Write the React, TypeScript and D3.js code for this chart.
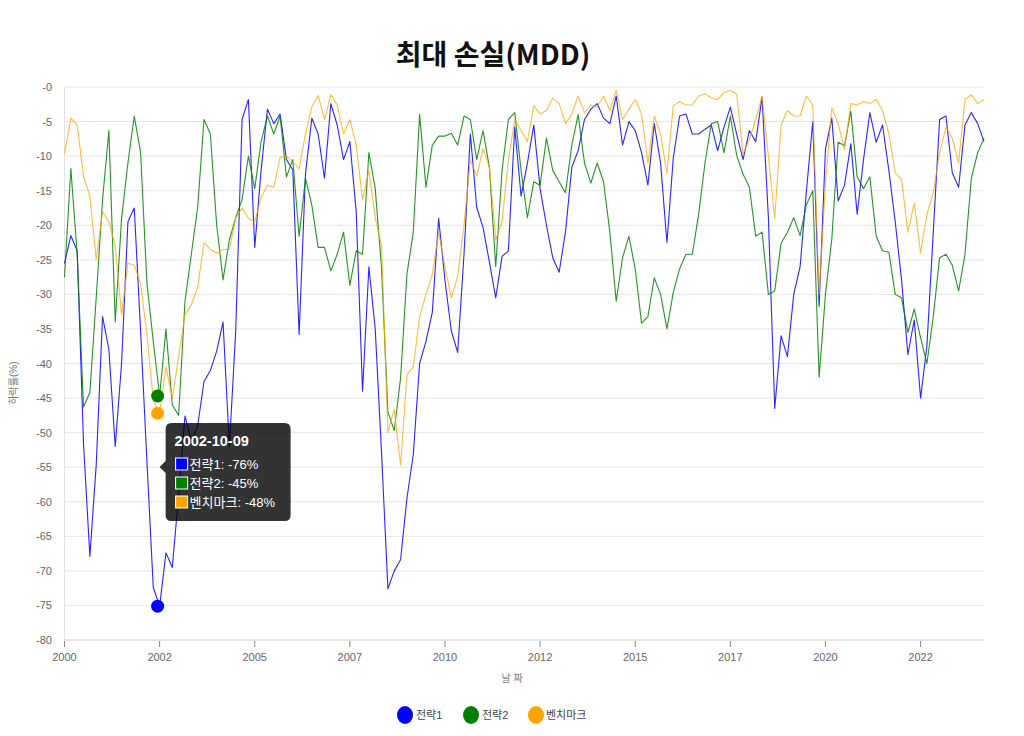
import React from "react";
import * as d3 from "d3";

const seriesNames = ["전략1", "전략2", "벤치마크"];
const seriesColors = ["#0000ff", "#008000", "#ffa500"];

const strategy1 = [
  -25.5, -21.5, -23.7, -51.6, -67.9, -54.7, -33.2, -38, -52, -40,
  -19.5, -17.5, -35.3, -54.2, -72.4, -75.1, -67.4, -69.5, -59, -47.6,
  -51.3, -49, -42.6, -41, -38.2, -34, -52, -35.3, -4.7, -1.8,
  -23.2, -12.1, -3.2, -5.3, -3.9, -10.5, -12, -35.8, -12.6, -4.5,
  -6.8, -13.2, -2.4, -5.5, -10.5, -7.9, -18, -44, -26, -35,
  -53, -72.6, -70, -68.4, -59.5, -53.2, -40, -36.8, -32.6, -19,
  -28, -35.3, -38.4, -24.2, -6.8, -17.4, -20.3, -25.3, -30.5, -24.5,
  -23.7, -5.8, -15.8, -11, -5.5, -14.7, -20, -24.7, -26.8, -21,
  -11.6, -9.2, -4.7, -3.2, -2.4, -4.5, -5.3, -1.3, -8.4, -5,
  -6.3, -9.5, -14.2, -5.3, -11, -22.5, -10.3, -4.2, -3.9, -6.8,
  -6.8, -6.1, -5.5, -9.2, -5.8, -2.9, -6.8, -10.5, -6.3, -7.9,
  -1.5, -18.9, -46.5, -36, -39, -30, -26, -15, -5, -31.7,
  -9, -4.5, -16.5, -14.2, -8.2, -18.4, -10.5, -3.7, -8, -5.5,
  -12.1, -19.5, -27.9, -38.7, -33.7, -45, -37.4, -21, -4.7, -4.2,
  -12.4, -14.5, -5.5, -3.7, -5.3, -7.9,
];

const strategy2 = [
  -27.5, -11.8, -24.2, -46.3, -44.2, -30.5, -16.3, -6.3, -34, -19,
  -11, -4.2, -9.5, -28.4, -36.8, -44.7, -35, -46, -47.5, -31,
  -24.2, -17.4, -4.7, -6.8, -20, -27.9, -22.1, -18.9, -16.3, -10,
  -14.7, -7.9, -4.2, -6.8, -4.2, -13, -10.5, -21.6, -13.2, -17.1,
  -23.2, -23.2, -26.6, -24.2, -21, -28.7, -23.7, -24.2, -9.5, -14.7,
  -26.3, -47, -49.7, -42.1, -27.1, -21, -4, -14.5, -8.4, -7.1,
  -7.1, -6.7, -8.4, -4.2, -4.7, -10.5, -6.3, -11.6, -26, -12,
  -4.7, -3.7, -12.1, -18.9, -13.7, -14.2, -7.4, -12.1, -13.7, -15.3,
  -8.4, -4, -11, -13.9, -11, -13.7, -21, -31, -24.7, -21.6,
  -26.3, -34.2, -33.2, -27.6, -30, -35, -29.7, -26.3, -24.2, -24.2,
  -18.4, -11, -5.3, -5, -9.5, -4.2, -9.9, -12.6, -14.5, -21.6,
  -21, -30, -29.5, -22.6, -21, -18.9, -21.5, -17, -15, -42,
  -30, -22, -8, -8.5, -3.5, -13, -14.7, -13, -21.6, -23.7,
  -23.9, -30, -30.5, -35.5, -32.1, -36.3, -40, -33.2, -24.7, -24.2,
  -25.8, -29.5, -24.2, -13.2, -9.5, -7.4,
];

const benchmark = [
  -9.7, -4.5, -5.5, -12.9, -15.8, -25, -18, -19.5, -23, -33,
  -25.5, -25.8, -28.4, -35.8, -45.3, -47.2, -40.5, -45, -39, -33,
  -31.5, -29, -22.5, -23.5, -24, -23.5, -23.5, -19, -17.5, -19,
  -19.5, -16, -14.2, -14.5, -10.2, -10, -10.8, -11.8, -6.8, -2.9,
  -1.2, -4.7, -1.1, -2.6, -6.8, -4.7, -8.4, -16.3, -12.1, -18.9,
  -23, -50, -46.6, -54.7, -41.6, -40.5, -33.2, -30, -27.1, -21,
  -26, -30.5, -27.4, -20, -10.5, -12.9, -8.9, -11.6, -22.1, -19.5,
  -10.5, -4.7, -6.3, -7.9, -2.7, -3.9, -3.4, -1.6, -2.4, -5.3,
  -3.9, -1.3, -3.7, -2.6, -2.9, -1.3, -3.4, -0.5, -4.7, -3.2,
  -1.8, -3.9, -11, -4.2, -6.8, -12.5, -2.7, -2.1, -2.6, -2.6,
  -1.3, -1, -1.6, -1.8, -0.8, -0.5, -1, -9.7, -7.6, -4.7,
  -1.3, -10, -19, -5.5, -3.4, -4.2, -4.2, -1.3, -2.6, -30,
  -14, -3, -5.3, -9, -2.4, -2.6, -2.1, -2.4, -1.8, -3.4,
  -6.8, -12.4, -13.4, -21, -16.8, -24, -18.4, -15.3, -9.5, -5.8,
  -7.4, -11, -1.8, -1.1, -2.4, -1.8,
];

const xTickIndices = [0, 15, 30, 45, 60, 75, 90, 105, 120, 135];
const xTickLabels = ["2000", "2002", "2005", "2007", "2010", "2012", "2015", "2017", "2020", "2022"];
const yTickValues = [0, -5, -10, -15, -20, -25, -30, -35, -40, -45, -50, -55, -60, -65, -70, -75, -80];

const hoverIndex = 15;
const hoverDate = "2002-10-09";

const FONT = "'Liberation Sans', Arial, 'Noto Sans CJK KR', sans-serif";

export default function App() {
  const width = 1024;
  const height = 736;
  const left = 64.5;
  const right = 984;
  const top = 87;
  const bottom = 640;
  const allSeries = [strategy1, strategy2, benchmark];
  const n = strategy1.length;

  const x = d3.scaleLinear().domain([0, n - 1]).range([left, right]);
  const y = d3.scaleLinear().domain([-80, 0]).range([bottom, top]);

  const line = d3
    .line<number>()
    .x((_, i) => x(i))
    .y((d) => y(d));

  const hx = x(hoverIndex) - 2;
  const tipX = hx + 8;
  const tipY = 423;
  const tipW = 125;
  const tipH = 98;
  const caretY = 467;

  const legendItems = [
    { cx: 405, tx: 416 },
    { cx: 471, tx: 482 },
    { cx: 536, tx: 546 },
  ];

  return (
    <div style={{ position: "absolute", left: 0, top: 0 }}>
      <svg width={width} height={height} style={{ display: "block", background: "#fff" }}>
        <text
          x={493}
          y={65}
          textAnchor="middle"
          fontFamily="'Noto Sans CJK KR', sans-serif"
          fontWeight={700}
          fontSize={28}
          fill="#111"
        >
          최대 손실(MDD)
        </text>

        {yTickValues.map((v) => (
          <g key={v}>
            <line x1={left} x2={right} y1={y(v)} y2={y(v)} stroke="#e6e6e6" strokeWidth={1} />
            <text
              x={52}
              y={y(v) + 4}
              textAnchor="end"
              fontFamily={FONT}
              fontSize={11}
              fill="#666"
            >
              {v === 0 ? "-0" : String(v)}
            </text>
          </g>
        ))}
        <line x1={left} x2={left} y1={top} y2={bottom} stroke="#e0e0e0" strokeWidth={1} />
        <line x1={left} x2={right} y1={bottom} y2={bottom} stroke="#d8d8d8" strokeWidth={1} />

        {xTickIndices.map((ti, k) => (
          <g key={ti}>
            <line x1={x(ti)} x2={x(ti)} y1={bottom + 1} y2={bottom + 7} stroke="#888" strokeWidth={1} />
            <text
              x={x(ti)}
              y={661}
              textAnchor="middle"
              fontFamily={FONT}
              fontSize={11}
              fill="#666"
            >
              {xTickLabels[k]}
            </text>
          </g>
        ))}

        <text
          x={512}
          y={682}
          textAnchor="middle"
          fontFamily={FONT}
          fontSize={10}
          fill="#777"
        >
          날 짜
        </text>
        <text
          transform={`translate(17, 383) rotate(-90)`}
          textAnchor="middle"
          fontFamily={FONT}
          fontSize={10}
          fill="#777"
        >
          하락률(%)
        </text>

        {allSeries.map((s, k) => (
          <path
            key={k}
            d={line(s) || ""}
            fill="none"
            stroke={seriesColors[k]}
            strokeOpacity={k === 2 ? 0.75 : 0.85}
            strokeWidth={1.1}
            strokeLinejoin="round"
          />
        ))}

        {allSeries.map((s, k) => (
          <circle key={k} cx={hx} cy={y(s[hoverIndex])} r={6.5} fill={seriesColors[k]} />
        ))}

        <g>
          <path
            d={`M${tipX + 6},${tipY} H${tipX + tipW - 6} Q${tipX + tipW},${tipY} ${tipX + tipW},${tipY + 6} V${tipY + tipH - 6} Q${tipX + tipW},${tipY + tipH} ${tipX + tipW - 6},${tipY + tipH} H${tipX + 6} Q${tipX},${tipY + tipH} ${tipX},${tipY + tipH - 6} V${caretY + 6} L${tipX - 6},${caretY} L${tipX},${caretY - 6} V${tipY + 6} Q${tipX},${tipY} ${tipX + 6},${tipY} Z`}
            fill="rgba(0,0,0,0.8)"
          />
          <text x={tipX + 9} y={tipY + 23} fontFamily={FONT} fontWeight={700} fontSize={14.5} fill="#fff">
            {hoverDate}
          </text>
          {allSeries.map((s, k) => (
            <g key={k}>
              <rect
                x={tipX + 10}
                y={tipY + 35 + k * 19}
                width={12}
                height={12}
                fill={seriesColors[k]}
                stroke="#fff"
                strokeWidth={1}
              />
              <text
                x={tipX + 24}
                y={tipY + 46 + k * 19}
                fontFamily={FONT}
                fontSize={13}
                fill="#fff"
              >
                {`${seriesNames[k]}: ${Math.floor(s[hoverIndex])}%`}
              </text>
            </g>
          ))}
        </g>

        {legendItems.map((it, k) => (
          <g key={k}>
            <ellipse cx={it.cx} cy={715} rx={8} ry={9} fill={seriesColors[k]} />
            <text x={it.tx} y={719} fontFamily={FONT} fontSize={11} fill="#444">
              {seriesNames[k]}
            </text>
          </g>
        ))}
      </svg>
    </div>
  );
}
